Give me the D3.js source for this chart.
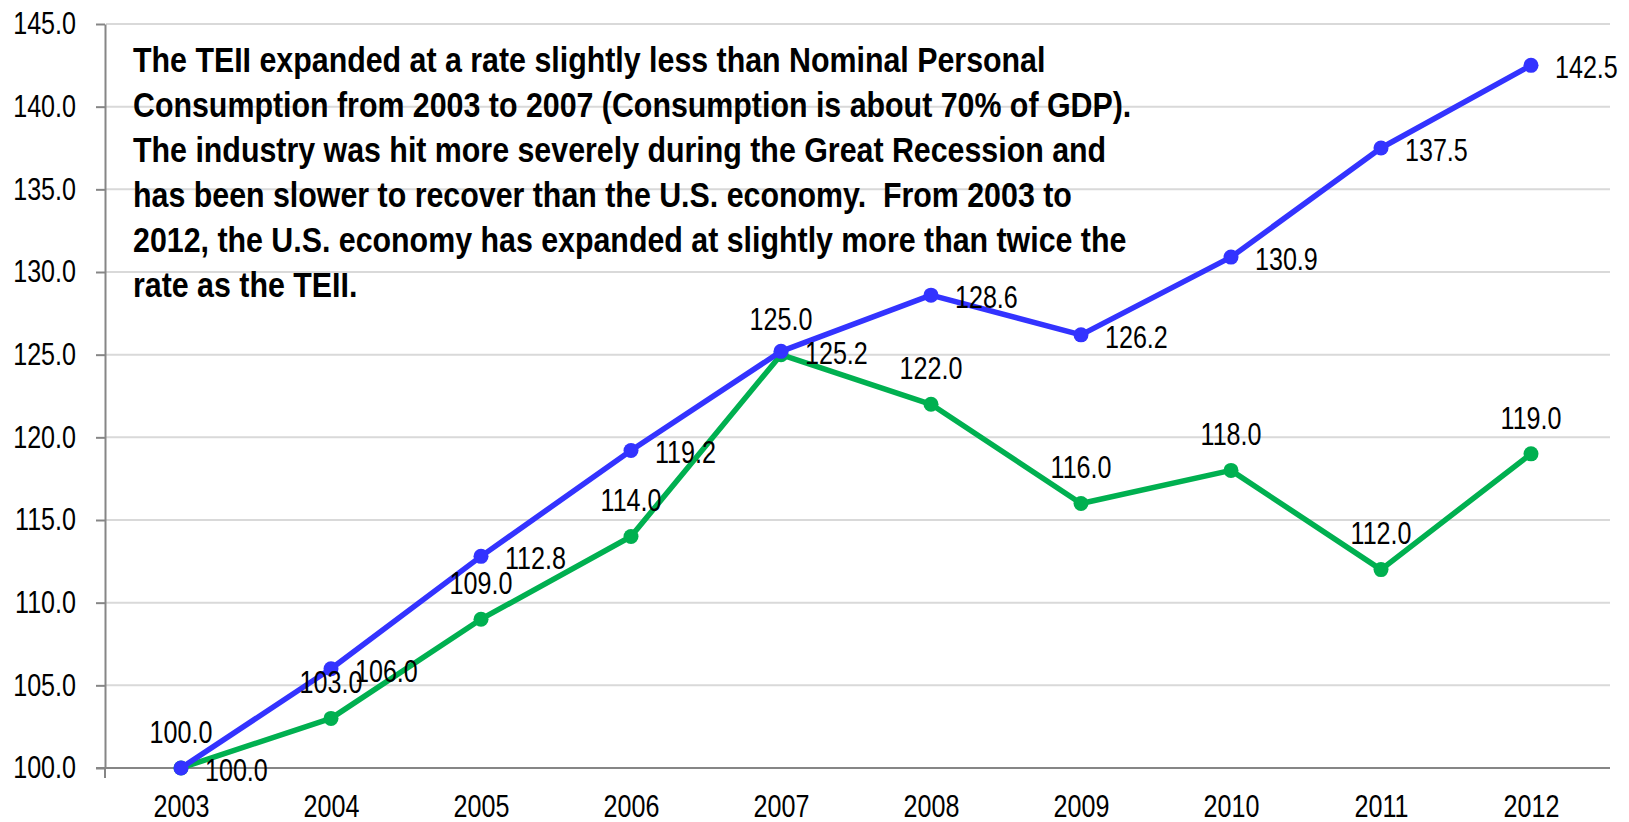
<!DOCTYPE html>
<html>
<head>
<meta charset="utf-8">
<script src="https://cdn.jsdelivr.net/npm/d3@7"></script>
<style>
  body { margin: 0; background: #fff; }
  svg text { font-family: "Liberation Sans Narrow", "Arial Narrow", "Liberation Sans", Arial, sans-serif; }
</style>
</head>
<body>
<div id="chart"></div>
<script>
// chart data
var years = ["2003", "2004", "2005", "2006", "2007", "2008", "2009", "2010", "2011", "2012"];
var consumption = [100.0, 106.0, 112.8, 119.2, 125.2, 128.6, 126.2, 130.9, 137.5, 142.5];
var teii = [100.0, 103.0, 109.0, 114.0, 125.0, 122.0, 116.0, 118.0, 112.0, 119.0];
var yTicks = [100, 105, 110, 115, 120, 125, 130, 135, 140, 145];
var noteLines = [
    "The TEII expanded at a rate slightly less than Nominal Personal",
    "Consumption from 2003 to 2007 (Consumption is about 70% of GDP).",
    "The industry was hit more severely during the Great Recession and",
    "has been slower to recover than the U.S. economy.  From 2003 to",
    "2012, the U.S. economy has expanded at slightly more than twice the",
    "rate as the TEII."
];

var svgWidth = 1629;
var svgHeight = 822;

const margin = { top: 24, right: 19, bottom: 54, left: 106 };
var width = svgWidth - margin.left - margin.right;
var height = svgHeight - margin.top - margin.bottom;

// no narrow font installed, so squeeze the regular one
var squeeze = 0.81;
var labelSize = "31px";

var svg = d3.select("#chart")
    .append("svg")
    .attr("width", svgWidth)
    .attr("height", svgHeight);

var chartGroup = svg.append("g")
    .attr("transform", `translate(${margin.left}, ${margin.top})`);

// scales
var xScale = d3.scalePoint()
    .domain(years)
    .range([0, 1500])
    .padding(0.5);

var yScale = d3.scaleLinear()
    .domain([100, 145])
    .range([height, 0]);

// gridlines
chartGroup.append("g")
    .selectAll("line")
    .data(yTicks.filter(d => d > 100))
    .enter()
    .append("line")
    .attr("x1", 0)
    .attr("x2", width)
    .attr("y1", d => yScale(d))
    .attr("y2", d => yScale(d))
    .attr("stroke", "#d9d9d9")
    .attr("stroke-width", 2);

// y axis
var yAxis = d3.axisLeft(yScale)
    .tickValues(yTicks)
    .tickFormat(d3.format(".1f"))
    .tickSizeInner(9)
    .tickSizeOuter(0)
    .tickPadding(20);

var yG = chartGroup.append("g").attr("transform", "translate(-1,0)").call(yAxis);
yG.select(".domain").attr("stroke", "#868686").attr("stroke-width", 2);
yG.selectAll(".tick line").attr("stroke", "#868686").attr("stroke-width", 2);
yG.selectAll("text")
    .attr("font-size", labelSize)
    .attr("fill", "#000")
    .attr("x", -29 / squeeze)
    .attr("transform", `scale(${squeeze},1)`);

// small extension of the vertical axis below the baseline
chartGroup.append("line")
    .attr("x1", -1).attr("x2", -1)
    .attr("y1", height).attr("y2", height + 10)
    .attr("stroke", "#868686").attr("stroke-width", 2);

// x axis
var xAxis = d3.axisBottom(xScale)
    .tickSize(0)
    .tickPadding(27);

var xG = chartGroup.append("g").attr("transform", `translate(0, ${height})`).call(xAxis);
xG.select(".domain").attr("stroke", "#868686").attr("stroke-width", 2)
    .attr("d", `M-10,0H${width}`);
xG.selectAll("text")
    .attr("font-size", labelSize)
    .attr("fill", "#000")
    .attr("transform", `scale(${squeeze},1)`);

// lines
var seriesList = [
    { name: "teii", values: teii, color: "#00b050", r: 7.5 },
    { name: "consumption", values: consumption, color: "#3333ff", r: 7.5 }
];

var line = d3.line()
    .x((d, i) => xScale(years[i]))
    .y(d => yScale(d));

seriesList.forEach(function(s) {
    chartGroup.append("path")
        .datum(s.values)
        .attr("d", line)
        .attr("fill", "none")
        .attr("stroke", s.color)
        .attr("stroke-width", 5.5)
        .attr("stroke-linejoin", "round");

    chartGroup.append("g")
        .selectAll("circle")
        .data(s.values)
        .enter()
        .append("circle")
        .attr("cx", (d, i) => xScale(years[i]))
        .attr("cy", d => yScale(d))
        .attr("r", s.r)
        .attr("fill", s.color);
});

// data labels: green above, blue to the right
chartGroup.append("g")
    .selectAll("text")
    .data(teii)
    .enter()
    .append("text")
    .text(d => d.toFixed(1))
    .attr("transform", (d, i) => `translate(${xScale(years[i])},${yScale(d) - 36}) scale(${squeeze},1)`)
    .attr("dy", "0.35em")
    .attr("text-anchor", "middle")
    .attr("font-size", labelSize);

chartGroup.append("g")
    .selectAll("text")
    .data(consumption)
    .enter()
    .append("text")
    .text(d => d.toFixed(1))
    .attr("transform", (d, i) => `translate(${xScale(years[i]) + 24},${yScale(d) + 2}) scale(${squeeze},1)`)
    .attr("dy", "0.35em")
    .attr("text-anchor", "start")
    .attr("font-size", labelSize);

// annotation
svg.append("text")
    .attr("transform", "translate(133,72) scale(0.88,1)")
    .attr("font-size", "34.5px")
    .attr("font-weight", "bold")
    .selectAll("tspan")
    .data(noteLines)
    .enter()
    .append("tspan")
    .attr("x", 0)
    .attr("dy", (d, i) => i === 0 ? 0 : 45)
    .style("white-space", "pre")
    .text(d => d);
</script>
</body>
</html>
